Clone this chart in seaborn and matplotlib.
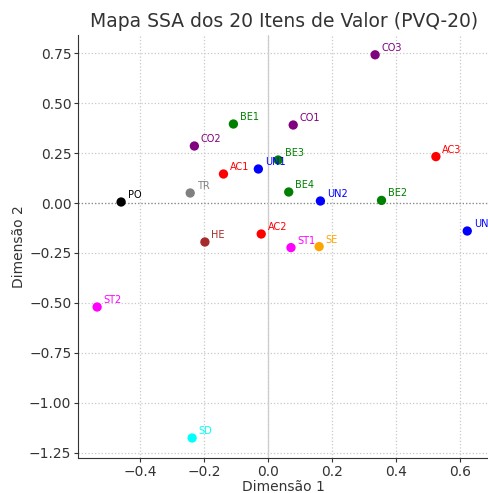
import pandas as pd
import numpy as np
import seaborn as sns
import matplotlib.pyplot as plt

## data
itens = ['PO', 'TR', 'CO2', 'BE1', 'AC1', 'UN1', 'BE3', 'CO1', 'CO3', 'AC3',
         'BE4', 'UN2', 'BE2', 'UN3', 'AC2', 'ST1', 'SE', 'HE', 'ST2', 'SD']
dim1 = [-0.460, -0.244, -0.231, -0.109, -0.140, -0.031, 0.031, 0.078, 0.334, 0.524,
        0.064, 0.163, 0.354, 0.622, -0.022, 0.071, 0.159, -0.198, -0.535, -0.238]
dim2 = [0.005, 0.050, 0.285, 0.395, 0.145, 0.170, 0.215, 0.390, 0.741, 0.232,
        0.055, 0.010, 0.013, -0.140, -0.155, -0.223, -0.218, -0.195, -0.520, -1.175]

cores = {'AC': 'red', 'BE': 'green', 'CO': 'purple', 'HE': 'brown', 'PO': 'black',
         'SD': 'cyan', 'SE': 'orange', 'ST': 'magenta', 'TR': 'gray', 'UN': 'blue'}

df = pd.DataFrame({'Item': itens, 'Dim1': dim1, 'Dim2': dim2})
df['Valor'] = df['Item'].str[:2]

## plot
sns.set_style('ticks')
fig, ax = plt.subplots(figsize=(4.89, 4.93), dpi=100)
fig.subplots_adjust(left=0.16, right=1.0, bottom=0.071, top=0.929)

ax.grid(True, linestyle=':', color='#c8c8c8', linewidth=0.9)
ax.axhline(0, color='#888888', linewidth=0.9, linestyle=':', zorder=1)
ax.axvline(0, color='#cccccc', linewidth=0.9, zorder=1)

sns.scatterplot(data=df, x='Dim1', y='Dim2', hue='Valor', palette=cores,
                s=45, edgecolor='none', legend=False, zorder=3, ax=ax)

for _, row in df.iterrows():
    ax.text(row['Dim1'] + 0.02, row['Dim2'] + 0.02, row['Item'],
            fontsize=7, color=cores[row['Valor']], zorder=4)

ax.set_xlim(-0.594, 0.69)
ax.set_ylim(-1.275, 0.84)
ax.set_xticks(np.arange(-0.4, 0.61, 0.2))
ax.set_yticks(np.arange(-1.25, 0.76, 0.25))
ax.set_xlabel('Dimensão 1', fontsize=10, color='#333333', labelpad=1)
ax.set_ylabel('Dimensão 2', fontsize=10, color='#333333', labelpad=2)
ax.tick_params(labelsize=10, length=3, pad=2, colors='#333333')
ax.set_title('Mapa SSA dos 20 Itens de Valor (PVQ-20)', fontsize=13.5, color='#333333')
sns.despine(ax=ax)
for s in ['left', 'bottom']:
    ax.spines[s].set_color('#333333')

fig.savefig('out.png', dpi=100)
